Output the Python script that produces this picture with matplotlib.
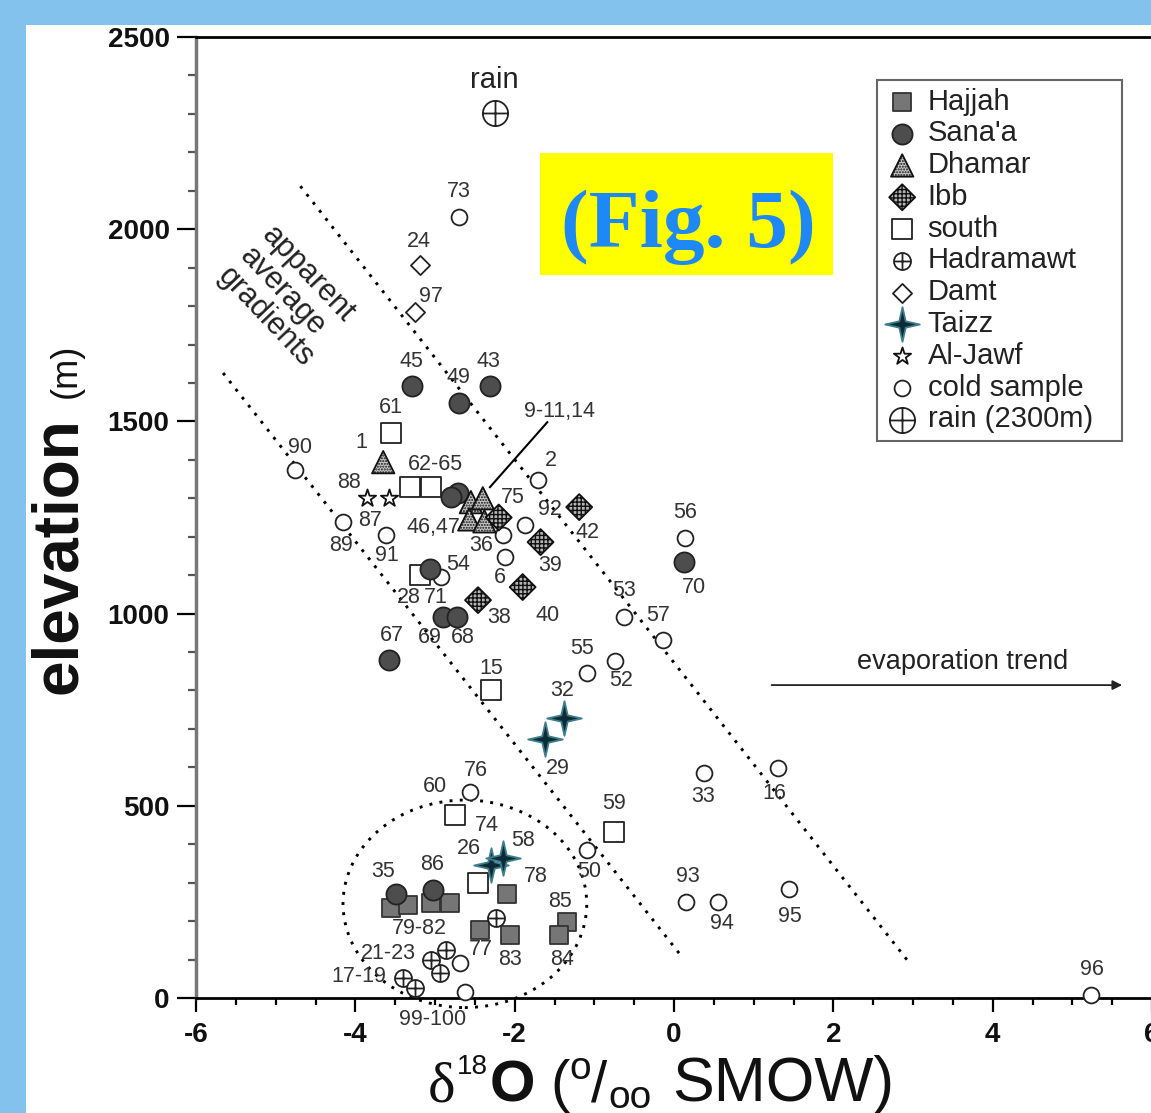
import math
import matplotlib.pyplot as plt
from matplotlib.path import Path
from matplotlib.patches import Ellipse, Rectangle
from matplotlib.ticker import MultipleLocator

W, H = 1151, 1113
plt.rcParams['font.family'] = ['Liberation Sans', 'DejaVu Sans']
plt.rcParams['axes.unicode_minus'] = False
plt.rcParams['hatch.linewidth'] = 1.0

# d18O (per mil SMOW) and elevation (m) of the samples, by group
hajjah_d18o = [-3.55, -3.34, -3.05, -2.81, -2.09, -2.43, -2.06, -1.34, -1.44]
hajjah_elev = [234, 242, 247, 247, 271, 177, 164, 198, 164]

sanaa_d18o = [-3.29, -2.70, -2.31, -2.71, -2.80, -3.06, -2.90, -2.73, -3.575, 0.125, -3.49, -3.03]
sanaa_elev = [1592, 1548, 1592, 1313, 1303, 1116, 991, 991, 879, 1134, 271, 281]

dhamar_d18o = [-3.65, -2.55, -2.40, -2.57, -2.38]
dhamar_elev = [1394, 1290, 1300, 1245, 1240]

ibb_d18o = [-2.20, -1.19, -1.675, -1.90, -2.46]
ibb_elev = [1250, 1277, 1186, 1069, 1035]

south_d18o = [-3.55, -3.31, -3.05, -3.19, -2.30, -2.75, -2.46, -0.75]
south_elev = [1470, 1329, 1329, 1100, 801, 476, 299, 432]

hadramawt_d18o = [-3.05, -2.94, -2.86, -3.40, -3.25, -2.24]
hadramawt_elev = [99, 65, 125, 52, 26, 208]

damt_d18o = [-3.19, -3.25]
damt_elev = [1907, 1785]

taizz_d18o = [-1.375, -1.625, -2.30, -2.15]
taizz_elev = [728, 674, 346, 364]

aljawf_d18o = [-3.85, -3.58]
aljawf_elev = [1300, 1300]

cold_d18o = [-2.70, -4.76, -1.71, -4.15, -3.61, -2.15, -2.125, -1.875, -2.93,
             -0.625, -0.14, -1.09, -0.74, 0.14, 0.375, 1.31, -2.56, -1.09,
             0.15, 0.55, 1.44, 5.24, -2.69, -2.625]
cold_elev = [2032, 1374, 1348, 1238, 1205, 1204, 1147, 1230, 1095,
             991, 931, 845, 877, 1197, 585, 598, 536, 385,
             250, 250, 284, 8, 91, 16]

rain_d18o = [-2.25]
rain_elev = [2302]

# sample numbers written next to the points (text, d18O, elevation)
point_labels = [
    ("73", -2.70, 2097), ("24", -3.20, 1969), ("97", -3.05, 1826),
    ("45", -3.29, 1655), ("49", -2.70, 1615), ("43", -2.325, 1655),
    ("9-11,14", -1.44, 1527), ("61", -3.55, 1535), ("90", -4.69, 1431),
    ("1", -3.925, 1444), ("62-65", -2.99, 1387), ("2", -1.54, 1397),
    ("88", -4.075, 1342), ("75", -2.025, 1303), ("92", -1.56, 1270),
    ("42", -1.09, 1212), ("87", -3.81, 1241), ("46,47", -3.025, 1225),
    ("89", -4.175, 1178), ("36", -2.425, 1178), ("91", -3.60, 1150),
    ("39", -1.56, 1124), ("54", -2.71, 1129), ("6", -2.19, 1093),
    ("28", -3.325, 1043), ("71", -2.99, 1043), ("38", -2.19, 989),
    ("40", -1.59, 996), ("53", -0.625, 1061), ("57", -0.20, 996),
    ("56", 0.14, 1264), ("70", 0.25, 1069), ("67", -3.54, 942),
    ("69", -3.06, 939), ("68", -2.65, 939), ("15", -2.29, 858),
    ("55", -1.15, 910), ("52", -0.66, 827), ("32", -1.40, 801),
    ("29", -1.46, 598), ("33", 0.36, 523), ("16", 1.26, 531),
    ("76", -2.49, 593), ("60", -3.00, 549), ("59", -0.75, 505),
    ("74", -2.35, 450), ("26", -2.575, 390), ("58", -1.90, 411),
    ("35", -3.65, 330), ("86", -3.04, 346), ("78", -1.74, 315),
    ("50", -1.06, 328), ("85", -1.425, 252), ("93", 0.175, 315),
    ("94", 0.60, 195), ("95", 1.46, 213), ("79-82", -3.19, 182),
    ("21-23", -3.59, 117), ("77", -2.425, 125), ("83", -2.06, 99),
    ("84", -1.41, 99), ("17-19", -3.96, 55), ("99-100", -3.025, -55),
    ("96", 5.24, 73),
]

# dotted "apparent average gradient" lines
gradient_upper_x = [-4.69, 2.975]
gradient_upper_y = [2112, 86]
gradient_lower_x = [-5.66, 0.10]
gradient_lower_y = [1626, 107]


def star4():
    verts = []
    for k in range(8):
        a = math.radians(90 + 45 * k)
        r = 1.0 if k % 2 == 0 else 0.26
        verts.append((r * math.cos(a), r * math.sin(a)))
    verts.append(verts[0])
    codes = [Path.MOVETO] + [Path.LINETO] * 7 + [Path.CLOSEPOLY]
    return Path(verts, codes)


def circle_cross():
    return Path.make_compound_path(
        Path.unit_circle(),
        Path([(-1, 0), (1, 0)], [Path.MOVETO, Path.LINETO]),
        Path([(0, -1), (0, 1)], [Path.MOVETO, Path.LINETO]),
    )


def fx(px):
    return px / W


def fy(py):
    return 1 - py / H


fig = plt.figure(figsize=(W / 100, H / 100), dpi=100, facecolor='#82C2EC')
fig.add_artist(Rectangle((fx(26), 0), 1, fy(25), transform=fig.transFigure,
                         facecolor='white', edgecolor='none', zorder=-5))

ax = fig.add_axes([fx(196), fy(998), (1152 - 196) / W, 961 / H])
ax.set_facecolor('none')
ax.set_xlim(-6, 6)
ax.set_ylim(0, 2500)

ax.xaxis.set_major_locator(MultipleLocator(2))
ax.xaxis.set_minor_locator(MultipleLocator(0.5))
ax.yaxis.set_major_locator(MultipleLocator(500))
ax.yaxis.set_minor_locator(MultipleLocator(100))
ax.tick_params(axis='x', which='major', direction='out', length=10, width=1.6,
               pad=7, labelsize=20, labelcolor='#111')
ax.tick_params(axis='x', which='minor', direction='out', length=5, width=1.6)
ax.tick_params(axis='y', which='major', direction='out', length=14, width=1.6,
               pad=5, labelsize=20, labelcolor='#111')
ax.tick_params(axis='y', which='minor', direction='out', length=6, width=1.6,
               color='#555')
for lab in ax.get_xticklabels() + ax.get_yticklabels():
    lab.set_fontweight('bold')
ax.spines['right'].set_visible(False)
ax.spines['top'].set_linewidth(2)
ax.spines['bottom'].set_linewidth(2)
ax.spines['left'].set_linewidth(2.5)
ax.spines['left'].set_color('#777')

dot = (0, (1, 2.5))
ax.plot(gradient_upper_x, gradient_upper_y, color='black', lw=2.1, ls=dot)
ax.plot(gradient_lower_x, gradient_lower_y, color='black', lw=2.1, ls=dot)
ax.add_patch(Ellipse((-2.625, 245), 3.06, 540, fill=False, lw=2.1, ls=dot,
                     edgecolor='black', clip_on=False))

ax.plot([-1.59, -2.31], [1498, 1329], color='black', lw=1.5)
ax.annotate('', xy=(5.66, 814), xytext=(1.19, 814),
            arrowprops=dict(arrowstyle='-|>', color='#222', lw=1.3,
                            mutation_scale=14))
ax.text(3.625, 874, 'evaporation trend', fontsize=19.5, color='#222',
        ha='center', va='center')

ax.text(-4.85, 1824, 'apparent\naverage\ngradients', fontsize=22,
        color='#222', ha='center', va='center', multialignment='left',
        rotation=-46.5, rotation_mode='anchor', linespacing=1.0)

kw = dict(clip_on=False, linewidths=1.3, zorder=3)
s_cold = ax.scatter(cold_d18o, cold_elev, s=130, marker='o', facecolor='white',
                    edgecolor='#222', **kw)
s_south = ax.scatter(south_d18o, south_elev, s=200, marker='s',
                     facecolor='white', edgecolor='#222', **kw)
s_hajjah = ax.scatter(hajjah_d18o, hajjah_elev, s=180, marker='s',
                      facecolor='#767676', edgecolor='#333', **kw)
s_sanaa = ax.scatter(sanaa_d18o, sanaa_elev, s=210, marker='o',
                     facecolor='#4d4d4d', edgecolor='#222', **kw)
s_dhamar = ax.scatter(dhamar_d18o, dhamar_elev, s=260, marker='^',
                      facecolor='#c8c8c8', edgecolor='#111', hatch='......',
                      **kw)
s_ibb = ax.scatter(ibb_d18o, ibb_elev, s=175, marker='D', facecolor='#b5b5b5',
                   edgecolor='#111', hatch='++++', **kw)
s_had = ax.scatter(hadramawt_d18o, hadramawt_elev, s=150, marker=circle_cross(),
                   facecolor='white', edgecolor='#222', **kw)
s_damt = ax.scatter(damt_d18o, damt_elev, s=95, marker='D', facecolor='white',
                    edgecolor='#222', **kw)
s_taizz = ax.scatter(taizz_d18o, taizz_elev, s=620, marker=star4(),
                     facecolor='#0c2b36', edgecolor='#3d7d8c', **kw)
s_jawf = ax.scatter(aljawf_d18o, aljawf_elev, s=170, marker='*',
                    facecolor='white', edgecolor='#111', **kw)
s_rain = ax.scatter(rain_d18o, rain_elev, s=330, marker=circle_cross(),
                    facecolor='white', edgecolor='#222', **kw)

ax.text(-2.25, 2388, 'rain', fontsize=21, color='#222', ha='center',
        va='center')
for txt, x, y in point_labels:
    ax.text(x, y, txt, fontsize=15.5, color='#333', ha='center', va='center',
            clip_on=False, zorder=4)

leg = ax.legend([s_hajjah, s_sanaa, s_dhamar, s_ibb, s_south, s_had, s_damt,
                 s_taizz, s_jawf, s_cold, s_rain],
                ['Hajjah', "Sana'a", 'Dhamar', 'Ibb', 'south', 'Hadramawt',
                 'Damt', 'Taizz', 'Al-Jawf', 'cold sample', 'rain (2300m)'],
                loc='upper left', bbox_to_anchor=(0.712, 0.5, 0.2563, 0.455),
                mode='expand', scatterpoints=1, fontsize=21, labelspacing=0.13,
                handletextpad=0.25, handlelength=1.25, borderpad=0.25,
                borderaxespad=0, fancybox=False, framealpha=1,
                edgecolor='#666', labelcolor='#222')
leg.get_frame().set_linewidth(1.5)

# yellow tag
fig.add_artist(Rectangle((fx(540), fy(275)), (833 - 540) / W, (275 - 153) / H,
                         transform=fig.transFigure, facecolor='#FFFF00',
                         edgecolor='none', zorder=5))
fig.text(fx(688), fy(247), '(Fig. 5)', fontsize=60, fontweight='bold',
         family=['Liberation Serif', 'DejaVu Serif'], color='#1E88F5',
         ha='center', va='baseline', zorder=6)

# axis titles
fig.text(fx(76), fy(556), 'elevation', fontsize=46, fontweight='bold',
         rotation=90, rotation_mode='anchor', ha='center', va='baseline',
         color='#111')
fig.text(fx(76), fy(371), '(m)', fontsize=26, rotation=90,
         rotation_mode='anchor', ha='center', va='baseline', color='#111')

base = 1101
serif = ['Liberation Serif', 'DejaVu Serif']
fig.text(fx(428), fy(base), '\u03b4', fontsize=42, family=serif, color='#111',
         va='baseline')
fig.text(fx(457), fy(1074), '18', fontsize=20, color='#111', va='baseline')
fig.text(fx(490), fy(base), 'O', fontsize=42, fontweight='bold', color='#111',
         va='baseline')
fig.text(fx(550), fy(base), '(', fontsize=42, color='#111', va='baseline')
fig.text(fx(569), fy(1079), 'o', fontsize=28, color='#111', va='baseline')
fig.text(fx(591), fy(base), '/', fontsize=42, color='#111', va='baseline')
fig.text(fx(608), fy(1108), 'oo', fontsize=28, color='#111', va='baseline')
fig.text(fx(672), fy(base), 'SMOW)', fontsize=45, color='#111', va='baseline')

fig.savefig('out.png', dpi=100, facecolor=fig.get_facecolor())
